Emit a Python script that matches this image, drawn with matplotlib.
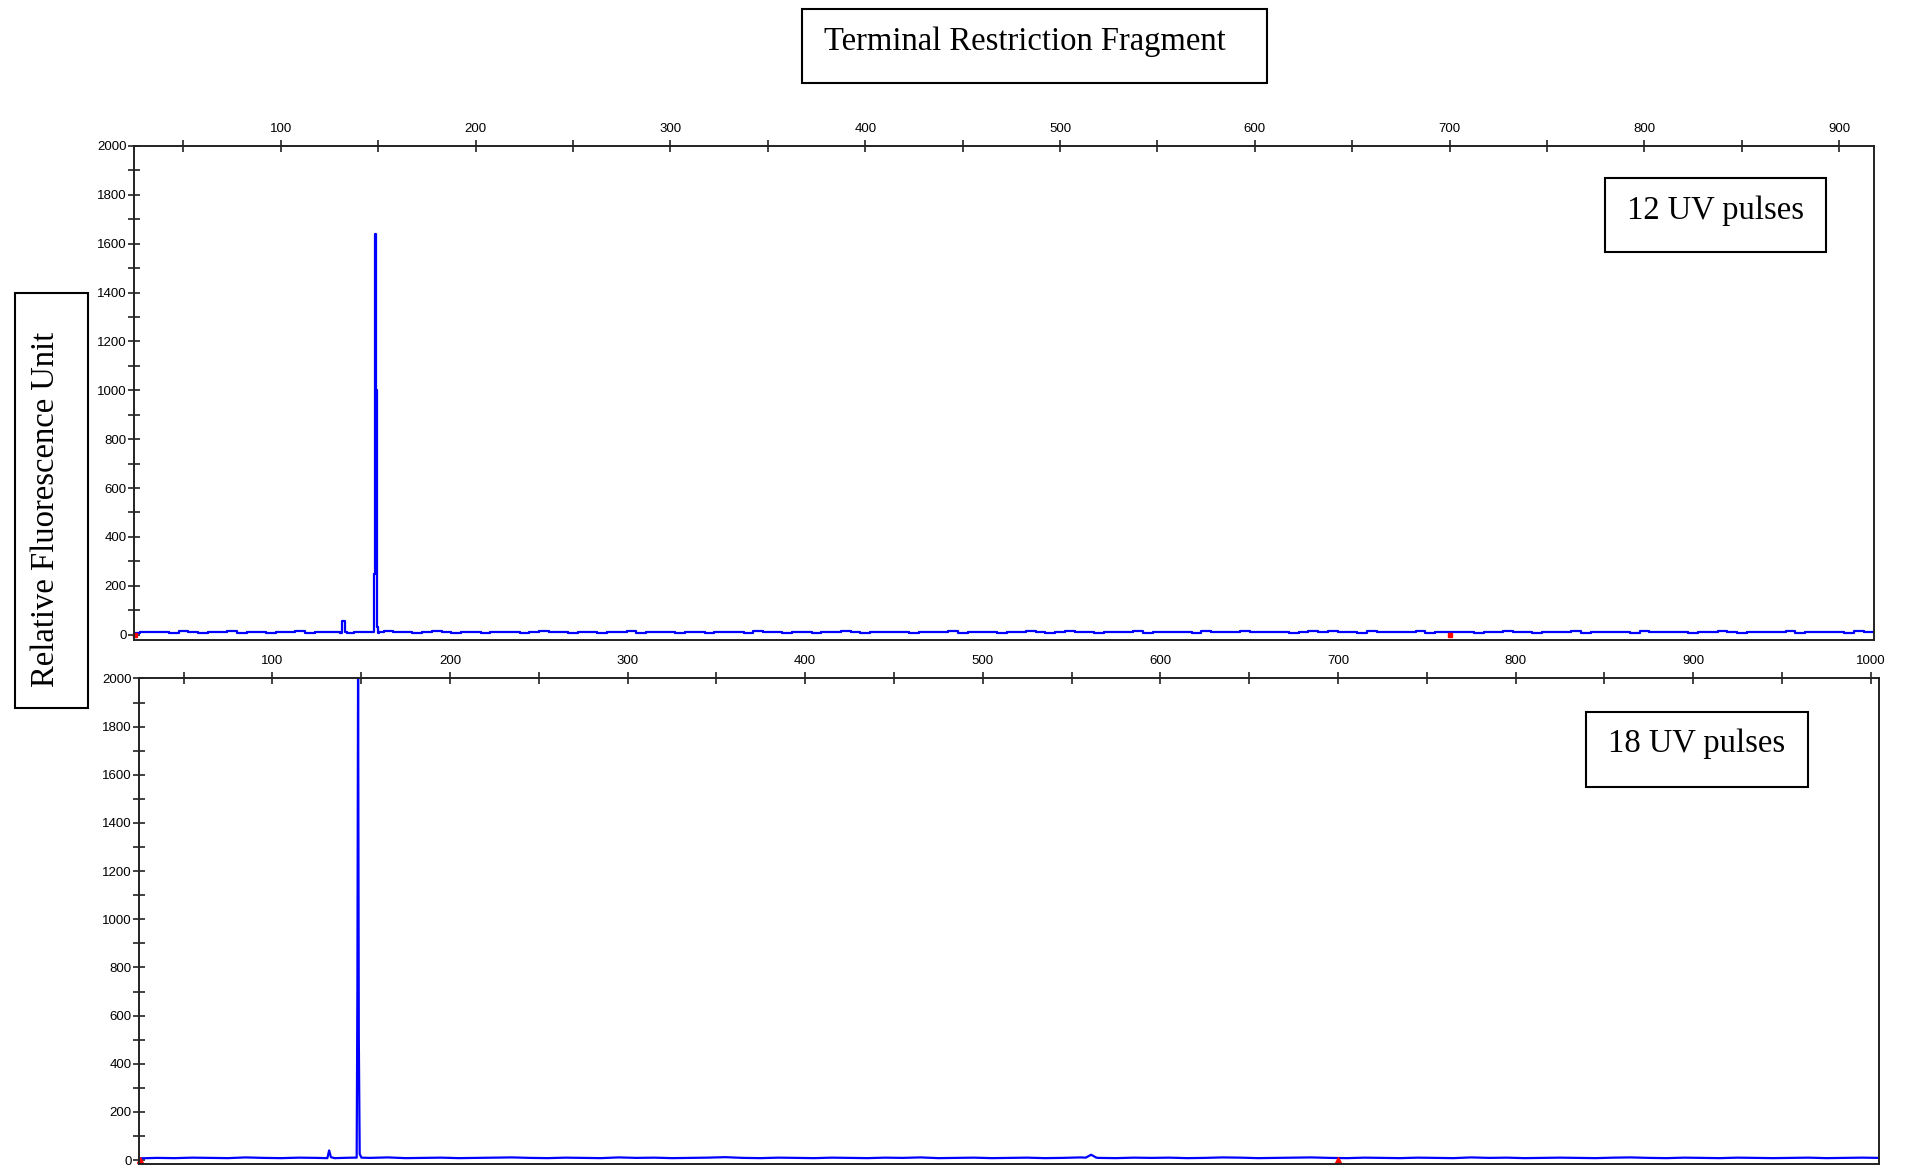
"""Two-panel T-RFLP electropherogram: 12 and 18 UV pulses."""
import matplotlib

matplotlib.use("Agg")
import matplotlib.pyplot as plt
import numpy as np
from matplotlib.patches import Rectangle
from matplotlib.ticker import MultipleLocator

# --- data (size in bp, fluorescence in RFU) ---
# top panel baseline, one reading every 5 bp from 25 bp
top_base_start, top_base_step = 25, 5
top_baseline = [
    8, 12, 9, 11, 7, 13, 10, 8, 12, 9, 14, 8, 10, 12, 7, 11, 9, 13, 8, 10,
    12, 9, 7, 11, 10, 8, 13, 9, 11, 8, 10, 14, 9, 7, 12, 10, 8, 11, 9, 12,
    8, 10, 13, 9, 11, 7, 10, 12, 8, 9, 11, 13, 8, 10, 9, 12, 7, 11, 10, 8,
    12, 9, 10, 8, 13, 11, 9, 7, 10, 12, 8, 11, 9, 14, 10, 8, 12, 9, 11, 10,
    7, 12, 9, 10, 13, 8, 11, 9, 12, 8, 10, 9, 13, 11, 8, 10, 15, 9, 12, 8,
    11, 10, 9, 13, 8, 12, 10, 9, 11, 8, 13, 10, 12, 9, 14, 11, 9, 12, 10, 8,
    11, 13, 9, 15, 10, 12, 8, 14, 11, 9, 12, 10, 13, 8, 11, 9, 12, 10, 8, 11,
    9, 13, 10, 12, 8, 11, 9, 10, 14, 8, 12, 9, 11, 10, 8, 13, 9, 11, 10, 12,
    8, 10, 9, 13, 11, 8, 12, 10, 9, 11, 14, 8, 10, 12, 9, 11, 8, 13, 10, 9,
]
top_peak_x = [131.0, 132.2, 133.2, 147.6, 148.0, 148.5, 149.0, 149.5, 150.5]
top_peak_y = [8, 55, 10, 10, 250, 1640, 1000, 30, 12]

# bottom panel baseline, one reading every 10 bp from 25 bp
bot_base_start, bot_base_step = 25, 10
bot_baseline = [
    7, 9, 8, 10, 9, 8, 11, 9, 8, 10,
    9, 8, 10, 9, 11, 8, 9, 10, 8, 9,
    10, 11, 9, 8, 10, 9, 8, 11, 9, 10,
    8, 9, 10, 12, 9, 8, 10, 9, 8, 10,
    9, 8, 10, 9, 11, 8, 9, 10, 8, 9,
    10, 8, 9, 11, 9, 8, 10, 9, 10, 8,
    9, 11, 10, 8, 9, 10, 11, 9, 8, 10,
    9, 8, 10, 9, 8, 11, 9, 10, 8, 9,
    10, 9, 8, 10, 11, 9, 8, 10, 9, 8,
    10, 9, 8, 9, 10, 8, 9, 10, 9,
]
bot_peak_x = [131.0, 132.0, 133.0, 147.5, 147.9, 148.3, 148.7, 149.2, 150.2,
              558.0, 561.0, 564.0]
bot_peak_y = [8, 40, 12, 10, 690, 2100, 510, 25, 10, 10, 22, 10]

size_markers = [700]

top_xlim = (24.5, 918)
bot_xlim = (24.7, 1004.8)

BLUE = "#0000ff"
SERIF = ["Liberation Serif", "DejaVu Serif"]
SANS = ["Liberation Sans", "DejaVu Sans"]


def _trace(base, start, step, px, py):
    bx = start + step * np.arange(len(base))
    x = np.concatenate([bx, px])
    y = np.concatenate([np.asarray(base, float), np.asarray(py, float)])
    order = np.argsort(x, kind="stable")
    return x[order], y[order]


def _style(ax, xlim, ylim):
    ax.set_xlim(*xlim)
    ax.set_ylim(*ylim)
    ax.xaxis.tick_top()
    ax.xaxis.set_label_position("top")
    ax.xaxis.set_major_locator(MultipleLocator(100))
    ax.xaxis.set_minor_locator(MultipleLocator(50))
    ax.yaxis.set_major_locator(MultipleLocator(200))
    ax.yaxis.set_minor_locator(MultipleLocator(100))
    ax.tick_params(which="both", direction="inout", width=1.2, color="#222222",
                   length=8)
    ax.tick_params(axis="y", labelsize=9.5, pad=1)
    ax.tick_params(axis="x", labelsize=9.5, pad=4)
    for lab in ax.get_xticklabels() + ax.get_yticklabels():
        lab.set_family(SANS)
    for sp in ax.spines.values():
        sp.set_linewidth(1.4)
        sp.set_color("#222222")


def _box(fig, x0, y0, x1, y1):
    # coordinates in the 1568x959 reference grid, converted to figure fraction
    W, H = 1568, 959
    fig.patches.append(Rectangle((x0 / W, 1 - y1 / H), (x1 - x0) / W, (y1 - y0) / H,
                                 transform=fig.transFigure, fill=False,
                                 edgecolor="black", linewidth=1.5))


fig = plt.figure(figsize=(19.06, 11.66), dpi=100)

ax1 = fig.add_axes([0.0702, 0.4515, 0.9834 - 0.0702, 0.8749 - 0.4515])
x, y = _trace(top_baseline, top_base_start, top_base_step, top_peak_x, top_peak_y)
ax1.plot(x, y, color=BLUE, lw=1.6, drawstyle="steps-mid")
ax1.plot([top_xlim[0] + 0.8] + size_markers, [0] * (1 + len(size_markers)), "s",
         color="red", ms=3.5, clip_on=False)
_style(ax1, top_xlim, (-20, 2000))

ax2 = fig.add_axes([0.0727, 0.002, 0.9860 - 0.0727, 0.4181 - 0.002])
x, y = _trace(bot_baseline, bot_base_start, bot_base_step, bot_peak_x, bot_peak_y)
ax2.plot(x, y, color=BLUE, lw=1.6)
ax2.plot([bot_xlim[0] + 0.8] + size_markers, [0] * (1 + len(size_markers)), "^",
         color="red", ms=4.5, clip_on=False)
_style(ax2, bot_xlim, (-15, 2000))

# boxed annotations
_box(fig, 660, 7, 1042, 68)
fig.text(678 / 1568, 1 - 34 / 959, "Terminal Restriction Fragment", family=SERIF,
         fontsize=23.5, ha="left", va="center")

_box(fig, 12, 241, 72, 582)
fig.text(38 / 1568, 1 - 419 / 959, "Relative Fluorescence Unit", family=SERIF,
         fontsize=23.5, rotation=90, ha="center", va="center")

_box(fig, 1320, 146, 1502, 207)
fig.text(1411 / 1568, 1 - 173 / 959, "12 UV pulses", family=SERIF,
         fontsize=23.5, ha="center", va="center")

_box(fig, 1305, 586, 1487, 647)
fig.text(1396 / 1568, 1 - 612 / 959, "18 UV pulses", family=SERIF,
         fontsize=23.5, ha="center", va="center")

fig.savefig("out.png", dpi=100)
